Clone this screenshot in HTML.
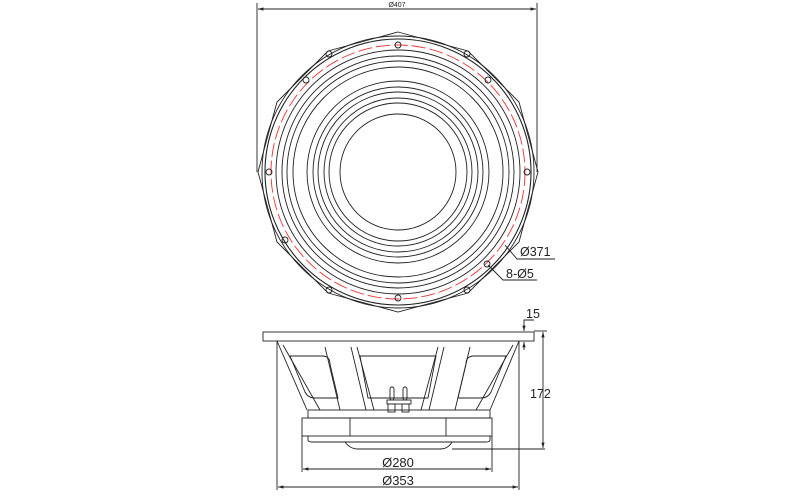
<!DOCTYPE html>
<html><head><style>body{margin:0;background:#fff}svg{display:block}</style></head><body>
<svg width="800" height="500" viewBox="0 0 800 500" xmlns="http://www.w3.org/2000/svg" font-family="Liberation Sans, sans-serif">
<defs><marker id="a" viewBox="0 0 10 10" refX="10" refY="5" markerWidth="6" markerHeight="6" orient="auto-start-reverse"><path d="M0,2 L10,5 L0,8 z" fill="#222"/></marker></defs>
<g fill="none" stroke="#222" stroke-width="0.9">
<line x1="257" y1="3" x2="257" y2="172"/><line x1="537" y1="3" x2="537" y2="172"/>
<line x1="258" y1="9" x2="536" y2="9" marker-start="url(#a)" marker-end="url(#a)"/>
<polygon points="398,32 468,51 519,102 538,172 519,242 468,293 398,312 328,293 277,242 258,172 277,102 328,51"/>
<circle cx="398" cy="172" r="136"/><circle cx="398" cy="172" r="133" stroke-width="1.1"/>
<circle cx="398" cy="172" r="127" stroke="#e33" stroke-dasharray="14,4"/>
<circle cx="398" cy="172" r="122"/><circle cx="398" cy="172" r="116"/><circle cx="398" cy="172" r="111"/><circle cx="398" cy="172" r="105"/>
<circle cx="398" cy="172" r="91"/><circle cx="398" cy="172" r="85"/><circle cx="398" cy="172" r="80"/><circle cx="398" cy="172" r="74"/><circle cx="398" cy="172" r="69"/><circle cx="398" cy="172" r="58"/>
<g>
<circle cx="398" cy="45" r="3"/><circle cx="329" cy="54" r="3"/><circle cx="467" cy="54" r="3"/>
<circle cx="306" cy="80" r="3"/><circle cx="488" cy="80" r="3"/>
<circle cx="269" cy="172" r="3"/><circle cx="527" cy="172" r="3"/>
<circle cx="285" cy="240" r="3"/><circle cx="487" cy="264" r="3"/>
<circle cx="329" cy="290" r="3"/><circle cx="467" cy="290" r="3"/><circle cx="398" cy="298" r="3"/>
</g>
<polyline points="505,245 517,259 555,259"/>
<polyline points="488,265 503,280 537,280"/>
<rect x="263" y="332" width="271" height="9"/>
<line x1="277" y1="341" x2="277" y2="490"/><line x1="519" y1="341" x2="519" y2="490"/>
<line x1="277" y1="341" x2="307" y2="410"/><line x1="283" y1="345" x2="320" y2="410"/>
<line x1="519" y1="341" x2="490" y2="410"/><line x1="513" y1="345" x2="476" y2="410"/>
<line x1="325" y1="347" x2="340" y2="410"/><line x1="351" y1="347" x2="366" y2="410"/><line x1="357" y1="347" x2="374" y2="410"/>
<line x1="470" y1="347" x2="455" y2="410"/><line x1="444" y1="347" x2="429" y2="410"/><line x1="438" y1="347" x2="421" y2="410"/>
<path d="M290,356 L322,356 Q330,356 330,364 L338,398 L315,398 Q308,398 305,392 Z"/>
<path d="M360,356 L436,356 L428,398 L368,398 Z"/>
<path d="M506,356 L474,356 Q466,356 466,364 L458,398 L481,398 Q488,398 491,392 Z"/>
<rect x="308" y="410" width="182" height="8"/>
<rect x="302" y="418" width="190" height="18"/>
<line x1="350" y1="418" x2="350" y2="436"/><line x1="446" y1="418" x2="446" y2="436"/>
<path d="M308,436 L308,440 Q308,442 312,442 L486,442 Q490,442 490,440 L490,436"/>
<path d="M345,442 Q350,449 358,449 L440,449 Q448,449 452,442"/>
<rect x="387" y="400" width="24" height="4"/>
<rect x="390" y="387" width="4" height="13" rx="2"/><rect x="403" y="387" width="4" height="13" rx="2"/>
<rect x="388" y="404" width="7" height="8"/><rect x="402" y="404" width="7" height="8"/>
<line x1="452" y1="449" x2="545" y2="449"/>
<line x1="302" y1="436" x2="302" y2="472"/><line x1="492" y1="436" x2="492" y2="472"/>
<line x1="303" y1="469" x2="491" y2="469" marker-start="url(#a)" marker-end="url(#a)"/>
<line x1="278" y1="487" x2="518" y2="487" marker-start="url(#a)" marker-end="url(#a)"/>
<line x1="534" y1="331" x2="547" y2="331"/>
<line x1="543" y1="332" x2="543" y2="448" marker-start="url(#a)" marker-end="url(#a)"/>
<polyline points="524,328 524,320 534,320"/>
<line x1="524" y1="326" x2="524" y2="331" marker-end="url(#a)"/>
<line x1="524" y1="350" x2="524" y2="342" marker-end="url(#a)"/>
</g>
<g fill="#222">
<text x="397" y="7" font-size="7" text-anchor="middle">Ø407</text>
<text x="520" y="256" font-size="12.5">Ø371</text>
<text x="506" y="278" font-size="12.5">8-Ø5</text>
<text x="526" y="318" font-size="12.5">15</text>
<text x="530" y="398" font-size="12.5">172</text>
<text x="398" y="467" font-size="13" text-anchor="middle">Ø280</text>
<text x="398" y="485" font-size="13" text-anchor="middle">Ø353</text>
</g>
</svg>
</body></html>
